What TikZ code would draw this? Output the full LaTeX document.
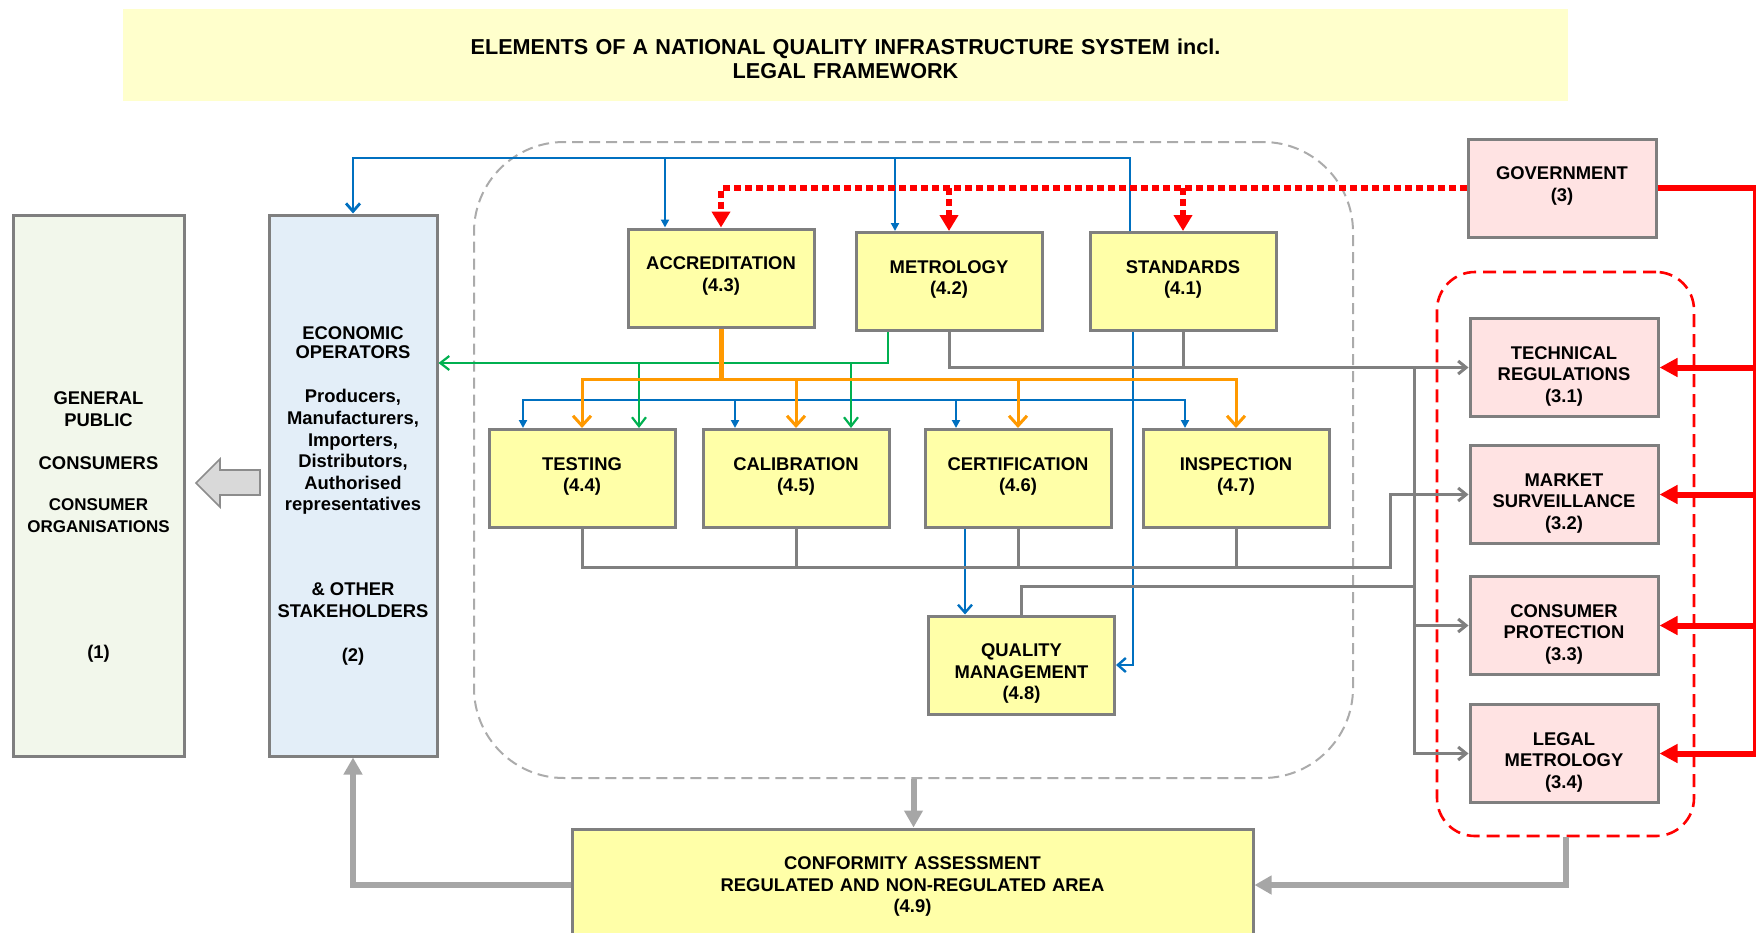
\documentclass[tikz,border=0pt]{standalone}
\usepackage{fontspec}
\setmainfont{Liberation Sans}
\usepackage{xcolor}
\usepackage{tikz}
\usetikzlibrary{arrows.meta, positioning}
\definecolor{ttlfill}{HTML}{FFFFCC}
\definecolor{nqifill}{HTML}{FFFFA8}
\definecolor{govfill}{HTML}{FFE3E3}
\definecolor{pubfill}{HTML}{F2F7EB}
\definecolor{ecofill}{HTML}{E3EEF8}
\definecolor{boxdraw}{HTML}{7F7F7F}
\definecolor{linkgray}{HTML}{808080}
\definecolor{flowgray}{HTML}{A6A6A6}
\definecolor{zonegray}{HTML}{ABABAB}
\definecolor{lnkblue}{HTML}{0070C0}
\definecolor{lnkgreen}{HTML}{00B050}
\definecolor{lnkorange}{HTML}{FF9900}
\definecolor{lnkred}{HTML}{FF0000}
\definecolor{arrfill}{HTML}{D9D9D9}
\definecolor{arrdraw}{HTML}{8C8C8C}
\tikzset{
  blk/.style={rectangle, draw=boxdraw, line width=1.5pt, align=center, font=\fontsize{9.2}{10.8}\selectfont\bfseries, inner sep=2pt},
  nqi/.style={blk, fill=nqifill, minimum width=93pt, minimum height=49pt, text width=88pt, text height=7pt, text depth=15.4pt},
  gov/.style={blk, fill=govfill, minimum width=94pt, minimum height=49pt, text width=88pt, text height=7pt, text depth=15.4pt},
  col/.style={blk, minimum height=270.5pt},
  txt/.style={align=center, font=\fontsize{9.2}{10.8}\selectfont\bfseries, inner sep=0pt, anchor=north},
  zone/.style={rectangle, rounded corners=45pt, dash pattern=on 5.5pt off 3pt, draw=zonegray, line width=1pt, minimum width=439.5pt, minimum height=318pt},
  rzone/.style={rectangle, rounded corners=19pt, dash pattern=on 6.5pt off 3.5pt, draw=lnkred, line width=1.3pt, minimum width=128.5pt, minimum height=282pt},
  bl/.style={draw=lnkblue, line width=1pt},
  blarr/.style={bl, -{Triangle[length=4pt,width=4pt]}},
  blopen/.style={bl, line width=1.2pt, -{Straight Barb[length=4pt,width=7pt]}},
  gnarr/.style={draw=lnkgreen, line width=1.1pt, -{Straight Barb[length=4.5pt,width=7pt]}},
  orarr/.style={draw=lnkorange, line width=1.5pt, -{Straight Barb[length=5pt,width=9pt]}},
  gyln/.style={draw=linkgray, line width=1.5pt},
  gyarr/.style={gyln, -{Straight Barb[length=4pt,width=6.5pt]}},
  rdot/.style={draw=lnkred, line width=3pt, dash pattern=on 3.5pt off 2pt, -{Triangle[length=8pt,width=9pt]}},
  rarr/.style={draw=lnkred, line width=3pt, -{Triangle[length=9pt,width=9pt]}},
  flow/.style={draw=flowgray, line width=3pt, -{Triangle[length=8.5pt,width=9pt]}},
}

\begin{document}
\begin{tikzpicture}[x=0.5pt, y=-0.5pt]
  \useasboundingbox (0,0) rectangle (1756,932);
  \node[fill=ttlfill, minimum width=722.5pt, minimum height=46pt, align=center, text width=700pt, text height=8pt, text depth=8.2pt, font=\fontsize{10.8}{12}\selectfont\bfseries] (title) at (845.5,55) {ELEMENTS OF A NATIONAL QUALITY INFRASTRUCTURE SYSTEM incl.\\LEGAL FRAMEWORK};

  \node[zone] (qi) at (913.5,460) {};
  \node[rzone] (rg) at (1565.5,554) {};

  \node[col, fill=pubfill, minimum width=85.5pt] (pub) at (98.5,485.5) {};
  \node[col, fill=ecofill, minimum width=84pt] (eco) at (353,485.5) {};
  \node[txt] (pubtxt) at (98.5,391.5) {GENERAL\\PUBLIC\\[11pt]CONSUMERS\\[9.7pt]{\fontsize{8.5}{9.6}\selectfont CONSUMER}\\{\fontsize{8.5}{9.6}\selectfont ORGANISATIONS}\\[52pt](1)};
  \node[txt] (ecotxt) at (353,326.5) {ECONOMIC\\[-1.2pt]OPERATORS\\[11.2pt]Producers,\\Manufacturers,\\Importers,\\Distributors,\\Authorised\\representatives\\[31.7pt]\& OTHER\\STAKEHOLDERS\\[11.2pt](2)};
  \filldraw[fill=arrfill, draw=arrdraw, line width=0.8pt] (196,483) -- (220,459) -- (220,470) -- (260,470) -- (260,495) -- (220,495) -- (220,507) -- cycle;

  \node[nqi] (acc) at (721,278) {ACCREDITATION\\(4.3)};
  \node[nqi, right=19.5pt of acc, yshift=-1.75pt] (met) {METROLOGY\\(4.2)};
  \node[nqi, right=22.5pt of met] (std) {STANDARDS\\(4.1)};
  \node[nqi] (tst) at (582,478.5) {TESTING\\(4.4)};
  \node[nqi, right=12.5pt of tst] (cal) {CALIBRATION\\(4.5)};
  \node[nqi, right=16.5pt of cal] (cer) {CERTIFICATION\\(4.6)};
  \node[nqi, right=14.5pt of cer] (ins) {INSPECTION\\(4.7)};
  \node[nqi] (qm) at (1021.5,665) {QUALITY\\MANAGEMENT\\(4.8)};
  \node[nqi, minimum width=340.5pt, minimum height=56pt, text width=330pt, text depth=22.4pt] (ca) at (912.5,885) {CONFORMITY ASSESSMENT\\REGULATED AND NON-REGULATED AREA\\(4.9)};

  \node[gov] (gov) at (1562,188) {GOVERNMENT\\(3)};
  \node[gov] (tr) at (1564,367.5) {TECHNICAL\\REGULATIONS\\(3.1)};
  \node[gov, below=13pt of tr] (ms) {MARKET\\SURVEILLANCE\\(3.2)};
  \node[gov, below=15pt of ms] (cp) {CONSUMER\\PROTECTION\\(3.3)};
  \node[gov, below=13.5pt of cp] (lm) {LEGAL\\METROLOGY\\(3.4)};

  \coordinate (btop) at ([shift={(-53,-73)}]std.north);
  \coordinate (accb) at ([shift={(-56,0)}]acc.north);
  \coordinate (metb) at ([shift={(-54,0)}]met.north);
  \draw[blopen, line width=1.4pt] ([shift={(-53,0)}]std.north) -- (btop) -| (eco.north);
  \draw[blarr] (accb |- btop) -- (accb);
  \draw[blarr] (metb |- btop) -- (metb);

  \coordinate (stdb) at ([shift={(-50,0)}]std.south);
  \coordinate (bbus) at ([shift={(0,68)}]stdb);
  \coordinate (tstb) at ([shift={(-59,0)}]tst.north);
  \coordinate (calb) at ([shift={(-61,0)}]cal.north);
  \coordinate (cerb) at ([shift={(-62,0)}]cer.north);
  \coordinate (insb) at ([shift={(-51,0)}]ins.north);
  \coordinate (cerq) at ([shift={(-53,0)}]cer.south);
  \draw[blopen] (stdb) |- (qm.east);
  \draw[blarr] (bbus) -| (tstb);
  \draw[blarr] (bbus) -| (insb);
  \draw[blarr] (bbus -| calb) -- (calb);
  \draw[blarr] (bbus -| cerb) -- (cerb);
  \draw[blopen] (cerq) -- (cerq |- qm.north);

  \coordinate (metg) at ([shift={(-61,0)}]met.south);
  \coordinate (gbus) at ([shift={(0,31)}]metg);
  \coordinate (tstg) at ([shift={(57,0)}]tst.north);
  \coordinate (calg) at ([shift={(55,0)}]cal.north);
  \draw[gnarr] (metg) -- (gbus) -- (gbus -| eco.east);
  \draw[gnarr] (gbus -| tstg) -- (tstg);
  \draw[gnarr] (gbus -| calg) -- (calg);

  \coordinate (obus) at ([shift={(0,51)}]acc.south);
  \draw[draw=lnkorange, line width=2.5pt] (acc.south) -- (obus);
  \draw[orarr] (obus) -| (tst.north);
  \draw[orarr] (obus) -| (ins.north);
  \draw[orarr] (obus -| cal.north) -- (cal.north);
  \draw[orarr] (obus -| cer.north) -- (cer.north);

  \draw[rdot] (gov.west) -| (acc.north);
  \draw[rdot] (met.north |- gov.west) -- (met.north);
  \draw[rdot] (std.north |- gov.west) -- (std.north);

  \coordinate (rbus) at ([shift={(98,0)}]gov.east);
  \draw[rarr] (gov.east) -- (rbus) |- (lm.east);
  \foreach \n in {tr, ms, cp} \draw[rarr] (rbus |- \n.east) -- (\n.east);

  \draw[gyarr] (met.south) |- (tr.west);
  \draw[gyln] (std.south) -- (std.south |- tr.west);
  \coordinate (vbus) at ([shift={(-54,0)}]tr.west);
  \draw[gyarr] (vbus) |- (lm.west);
  \draw[gyarr] (vbus |- cp.west) -- (cp.west);
  \coordinate (qmup) at ([shift={(0,-28)}]qm.north);
  \draw[gyln] (qm.north) -- (qmup) -- (qmup -| vbus);
  \coordinate (lbus) at ([shift={(0,38)}]tst.south);
  \coordinate (msin) at ([shift={(-78,0)}]ms.west);
  \draw[gyarr] (tst.south) -- (lbus) -| (msin) -- (ms.west);
  \foreach \n in {cal, cer, ins} \draw[gyln] (\n.south) -- (\n.south |- lbus);

  \draw[flow] (qi.south) -- (qi.south |- ca.north);
  \draw[flow] (ca.west) -| (eco.south);
  \draw[flow] (rg.south) |- (ca.east);
\end{tikzpicture}
\end{document}
